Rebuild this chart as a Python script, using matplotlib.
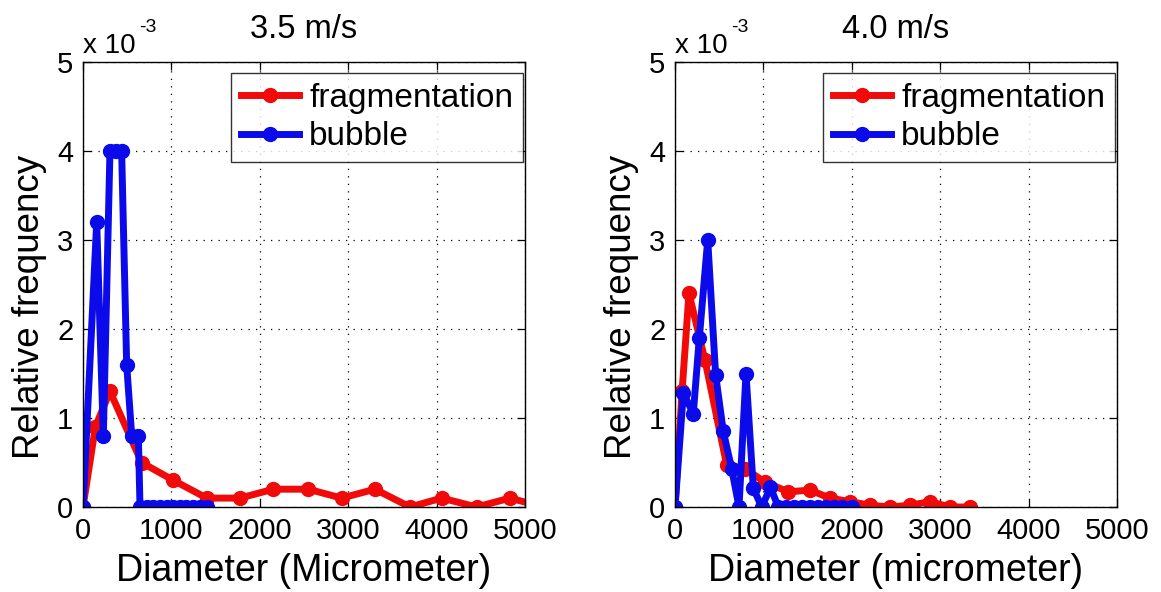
import matplotlib
matplotlib.use("Agg")
import matplotlib.pyplot as plt
from matplotlib.ticker import FuncFormatter, MultipleLocator

plt.rcParams['font.family'] = ['Liberation Sans', 'DejaVu Sans']

# Droplet / bubble size distributions (relative frequency in units of 1e-3)
frag35_d = [0, 140, 305, 663, 1022, 1400, 1776, 2153, 2549, 2926, 3303, 3699, 4058, 4453, 4830, 5207]
frag35_f = [0, 0.9, 1.3, 0.5, 0.3, 0.1, 0.1, 0.2, 0.2, 0.1, 0.2, 0.0, 0.1, 0.0, 0.1, 0.0]

bub35_d = [0, 155, 230, 305, 370, 437, 494, 551, 626, 645, 720, 795, 870, 945,
           1020, 1095, 1170, 1245, 1320, 1400]
bub35_f = [0, 3.2, 0.8, 4.0, 4.0, 4.0, 1.6, 0.8, 0.8, 0, 0, 0, 0, 0,
           0, 0, 0, 0, 0, 0]

frag40_d = [0, 80, 158, 339, 585, 792, 1018, 1282, 1527, 1753, 1980, 2206, 2432,
            2658, 2885, 3111, 3337]
frag40_f = [0, 1.3, 2.4, 1.65, 0.47, 0.43, 0.28, 0.17, 0.19, 0.1, 0.06, 0.02, 0.0,
            0.02, 0.06, 0.0, 0.0]

bub40_d = [0, 94, 207, 275, 370, 460, 546, 641, 724, 803, 886, 981, 1080, 1169,
           1260, 1350, 1440, 1530, 1620, 1710, 1800, 1890, 2000]
bub40_f = [0, 1.28, 1.05, 1.9, 3.0, 1.48, 0.85, 0.43, 0, 1.5, 0.21, 0, 0.22, 0,
           0, 0, 0, 0, 0, 0, 0, 0, 0]

titles = ["3.5 m/s", "4.0 m/s"]
xlabels = ["Diameter (Micrometer)", "Diameter (micrometer)"]
series = [(frag35_d, frag35_f, bub35_d, bub35_f),
          (frag40_d, frag40_f, bub40_d, bub40_f)]

SCALE = 1e-3
RED = "#f00a0a"
BLUE = "#0a0aeb"

fig = plt.figure(figsize=(11.61, 5.92), dpi=100)
W, H = 1161, 592
lefts = [83, 675]
ax_w, ax_top, ax_bot = 442, 62, 507

for left, title, xlabel, (fd, ff, bd, bf) in zip(lefts, titles, xlabels, series):
    ax = fig.add_axes([left / W, (H - ax_bot) / H, ax_w / W, (ax_bot - ax_top) / H])
    ax.plot(fd, [v * SCALE for v in ff], '-o', color=RED, lw=5, ms=10,
            label='fragmentation')
    ax.plot(bd, [v * SCALE for v in bf], '-o', color=BLUE, lw=5, ms=10,
            label='bubble')

    ax.set_xlim(0, 5000)
    ax.set_ylim(0, 5 * SCALE)
    ax.xaxis.set_major_locator(MultipleLocator(1000))
    ax.yaxis.set_major_locator(MultipleLocator(1 * SCALE))
    ax.yaxis.set_major_formatter(FuncFormatter(lambda v, p: f"{v / SCALE:g}"))

    ax.grid(True, color='black', linestyle=(0, (1, 5)), linewidth=0.9)
    ax.tick_params(direction='in', top=True, right=True, length=6, width=0.9,
                   labelsize=21, pad=7)
    for s in ax.spines.values():
        s.set_linewidth(1.0)

    ax.set_title(title, fontsize=23.5, pad=17)
    ax.set_xlabel(xlabel, fontsize=27, labelpad=6)
    ax.set_ylabel('Relative frequency', fontsize=26.5)
    ax.yaxis.set_label_coords(-0.082, 0.45)

    ax.text(0.0, 1.02, 'x 10', transform=ax.transAxes, fontsize=20,
            ha='left', va='baseline')
    ax.text(0.127, 1.067, '-3', transform=ax.transAxes, fontsize=14,
            ha='left', va='baseline')

    leg = ax.legend(loc='upper right', bbox_to_anchor=(0.9955, 0.975),
                    borderaxespad=0, fontsize=24, frameon=True, fancybox=False,
                    handlelength=1.75, handletextpad=0.3, labelspacing=0.22,
                    borderpad=0.3)
    leg.get_frame().set_edgecolor('black')
    leg.get_frame().set_linewidth(1.0)

fig.savefig('out.png', dpi=100, facecolor='white')
